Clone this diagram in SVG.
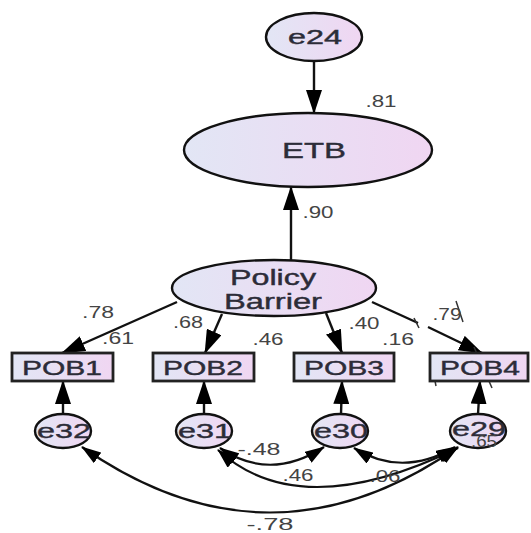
<svg xmlns="http://www.w3.org/2000/svg" width="531" height="533" viewBox="0 0 531 533">
<defs>
<linearGradient id="g" x1="0" y1="0" x2="1" y2="0">
<stop offset="0" stop-color="#e2e6f5"/><stop offset="1" stop-color="#f0d6f2"/>
</linearGradient>
<marker id="ah" viewBox="0 0 24 16" refX="23" refY="8" markerWidth="24" markerHeight="16" markerUnits="userSpaceOnUse" orient="auto">
<path d="M0,0 L24,8 L0,16 z" fill="#000"/>
</marker>
<marker id="ch" viewBox="0 0 20 13" refX="19" refY="6.5" markerWidth="20" markerHeight="13" markerUnits="userSpaceOnUse" orient="auto-start-reverse">
<path d="M0,0 L20,6.5 L0,13 z" fill="#000"/>
</marker>
<style>
.n{fill:url(#g);stroke:#111;stroke-width:2.4}
.b{fill:url(#g);stroke:#222;stroke-width:2.8}
.t{font-family:"Liberation Sans",Arial,sans-serif;fill:#2c2c38;stroke:#2c2c38;stroke-width:0.4;text-anchor:middle}
.l{font-family:"Liberation Sans",Arial,sans-serif;fill:#444;font-size:16px;text-anchor:middle}
.p{stroke:#111;stroke-width:2.4;fill:none;marker-end:url(#ah)}
.s{stroke:#111;stroke-width:2.4;fill:none}
.a{stroke:#333;stroke-width:1.5;fill:none}
.v{fill:none;stroke:#111;stroke-width:2.2;marker-start:url(#ch);marker-end:url(#ch)}
</style>
</defs>
<rect width="531" height="533" fill="#fff"/>
<g id="connectors">
<line class="p" x1="314" y1="61" x2="314" y2="113"/>
<line class="p" x1="291" y1="261" x2="291" y2="187"/>
<line class="p" x1="177" y1="302" x2="62" y2="353"/>
<line class="p" x1="222" y1="314" x2="205" y2="353"/>
<line class="p" x1="326" y1="313" x2="342" y2="353"/>
<line class="s" x1="372" y1="302" x2="418" y2="323"/>
<line class="p" x1="428" y1="327" x2="482" y2="353"/>
<line class="p" x1="63" y1="414" x2="63" y2="381"/>
<line class="p" x1="204" y1="414" x2="204" y2="381"/>
<line class="p" x1="341" y1="414" x2="342" y2="381"/>
<line class="p" x1="478" y1="414" x2="480" y2="381"/>
<path class="v" d="M458,447 Q270,578 82,447"/>
<path class="v" d="M220,448 Q270,482 324,447"/>
<path class="v" d="M218,450 Q300,525 458,448"/>
<path class="v" d="M354,448 Q402,478 455,447"/>
<line class="a" x1="456" y1="301" x2="463" y2="322"/>
<line class="a" x1="414" y1="318" x2="419" y2="328"/>
<line class="a" x1="474" y1="347" x2="492" y2="388"/>
<line class="a" x1="430" y1="356" x2="436" y2="386"/>
</g>
<g id="e24"><ellipse class="n" cx="314" cy="37" rx="48" ry="24"/><text class="t" x="315" y="44" font-size="20" textLength="54" lengthAdjust="spacingAndGlyphs">e24</text></g>
<g id="ETB"><ellipse class="n" cx="308" cy="150" rx="124" ry="37"/><text class="t" x="314" y="158" font-size="22" textLength="64" lengthAdjust="spacingAndGlyphs">ETB</text></g>
<g id="PolicyBarrier"><ellipse class="n" cx="274" cy="288" rx="102" ry="28"/><text class="t" x="273" y="285" font-size="22" textLength="86" lengthAdjust="spacingAndGlyphs">Policy</text><text class="t" x="273" y="309" font-size="22" textLength="98" lengthAdjust="spacingAndGlyphs">Barrier</text></g>
<g id="POB1"><rect class="b" x="12" y="353" width="101" height="28"/><text class="t" x="62" y="375" font-size="21" textLength="80" lengthAdjust="spacingAndGlyphs">POB1</text></g>
<g id="POB2"><rect class="b" x="153" y="353" width="101" height="28"/><text class="t" x="203" y="375" font-size="21" textLength="80" lengthAdjust="spacingAndGlyphs">POB2</text></g>
<g id="POB3"><rect class="b" x="294" y="353" width="100" height="28"/><text class="t" x="344" y="375" font-size="21" textLength="80" lengthAdjust="spacingAndGlyphs">POB3</text></g>
<g id="POB4"><rect class="b" x="430" y="353" width="98" height="28"/><text class="t" x="480" y="375" font-size="21" textLength="80" lengthAdjust="spacingAndGlyphs">POB4</text></g>
<g id="e32"><ellipse class="n" cx="63" cy="431" rx="28" ry="17"/><text class="t" x="64" y="438" font-size="21" textLength="54" lengthAdjust="spacingAndGlyphs">e32</text></g>
<g id="e31"><ellipse class="n" cx="204" cy="431" rx="28" ry="17"/><text class="t" x="205" y="438" font-size="21" textLength="54" lengthAdjust="spacingAndGlyphs">e31</text></g>
<g id="e30"><ellipse class="n" cx="340" cy="431" rx="28" ry="17"/><text class="t" x="341" y="438" font-size="21" textLength="54" lengthAdjust="spacingAndGlyphs">e30</text></g>
<g id="e29"><ellipse class="n" cx="478" cy="431" rx="28" ry="17"/><text class="t" x="479" y="436" font-size="21" textLength="54" lengthAdjust="spacingAndGlyphs">e29</text></g>
<g id="labels">
<text class="l" x="381" y="107" textLength="31" lengthAdjust="spacingAndGlyphs">.81</text>
<text class="l" x="318" y="218" textLength="31" lengthAdjust="spacingAndGlyphs">.90</text>
<text class="l" x="98" y="318" textLength="32" lengthAdjust="spacingAndGlyphs">.78</text>
<text class="l" x="118" y="344" textLength="32" lengthAdjust="spacingAndGlyphs">.61</text>
<text class="l" x="188" y="328" textLength="30" lengthAdjust="spacingAndGlyphs">.68</text>
<text class="l" x="268" y="345" textLength="31" lengthAdjust="spacingAndGlyphs">.46</text>
<text class="l" x="364" y="329" textLength="31" lengthAdjust="spacingAndGlyphs">.40</text>
<text class="l" x="398" y="345" textLength="32" lengthAdjust="spacingAndGlyphs">.16</text>
<text class="l" x="447" y="320" textLength="29" lengthAdjust="spacingAndGlyphs">.79</text>
<text class="l" x="259" y="455" textLength="43" lengthAdjust="spacingAndGlyphs">-.48</text>
<text class="l" x="298" y="481" textLength="31" lengthAdjust="spacingAndGlyphs">.46</text>
<text class="l" x="385" y="482" textLength="31" lengthAdjust="spacingAndGlyphs">.06</text>
<text class="l" x="270" y="530" textLength="47" lengthAdjust="spacingAndGlyphs">-.78</text>
<text class="l" x="484" y="447" textLength="26" lengthAdjust="spacingAndGlyphs">.65</text>
</g>
</svg>
